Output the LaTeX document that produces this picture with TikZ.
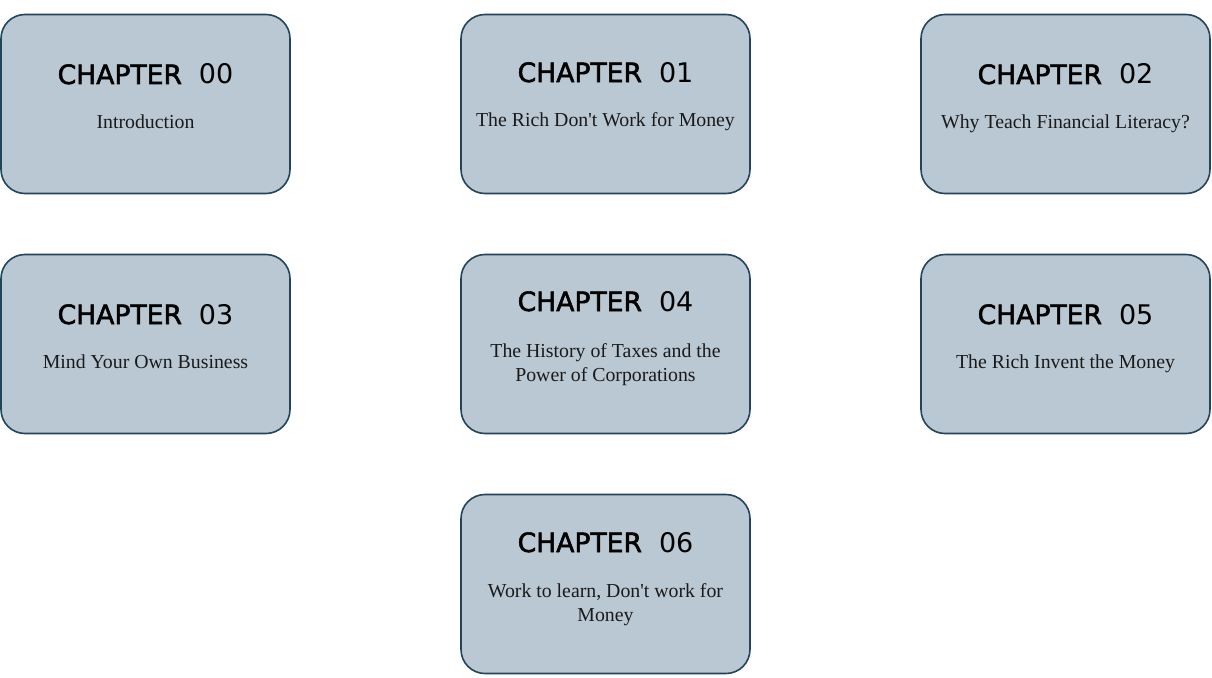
\documentclass[tikz,border=0pt]{standalone}
\usepackage{fontspec}
\setmainfont{Liberation Serif}
\newfontfamily\titlefont{DejaVu Sans}
\newfontfamily\titlefontsb[FakeBold=2]{DejaVu Sans}
\definecolor{boxfill}{HTML}{BAC8D3}
\definecolor{boxline}{HTML}{23445D}
\definecolor{bodytext}{HTML}{1A1A1A}
\newcommand{\chtitletext}[1]{{\titlefontsb\fontsize{26.6}{30}\selectfont CHAPTER}\hspace{17pt}{\fontsize{27}{30}\selectfont #1}}
\begin{document}
\begin{tikzpicture}[x=1pt,y=-1pt,
  chbox/.style={draw=boxline, fill=boxfill, line width=1.6pt, rounded corners=24pt,
    minimum width=289pt, minimum height=179pt, inner sep=0pt},
  chtitle/.style={anchor=base, inner sep=0pt, font=\titlefont, text=black},
  chbody/.style={anchor=base, inner sep=0pt, align=center, font=\fontsize{19.8}{24}\selectfont, text=bodytext}]
\useasboundingbox (0,0) rectangle (1212,677);
% boxes
\node[chbox] (b0) at (145.5,104) {};
\node[chbox] (b1) at (605.5,104) {};
\node[chbox] (b2) at (1065.5,104) {};
\node[chbox] (b3) at (145.5,344) {};
\node[chbox] (b4) at (605.5,344) {};
\node[chbox] (b5) at (1065.5,344) {};
\node[chbox] (b6) at (605.5,584) {};
% titles
\node[chtitle] (t0) at (145.5,84) {\chtitletext{00}};
\node[chtitle] (t1) at (605.5,82) {\chtitletext{01}};
\node[chtitle] (t2) at (1065.5,84) {\chtitletext{02}};
\node[chtitle] (t3) at (145.5,324) {\chtitletext{03}};
\node[chtitle] (t4) at (605.5,311) {\chtitletext{04}};
\node[chtitle] (t5) at (1065.5,324) {\chtitletext{05}};
\node[chtitle] (t6) at (605.5,552) {\chtitletext{06}};
% bodies
\node[chbody] (s0) at (145.5,128) {Introduction};
\node[chbody] (s1) at (605.5,126) {The Rich Don\textquotesingle t Work for Money};
\node[chbody] (s2) at (1065.5,128) {Why Teach Financial Literacy?};
\node[chbody] (s3) at (145.5,368) {Mind Your Own Business};
\node[chbody] (s4) at (605.5,381) {The History of Taxes and the\\Power of Corporations};
\node[chbody] (s5) at (1065.5,368) {The Rich Invent the Money};
\node[chbody] (s6) at (605.5,621) {Work to learn, Don\textquotesingle t work for\\Money};
\end{tikzpicture}
\end{document}
